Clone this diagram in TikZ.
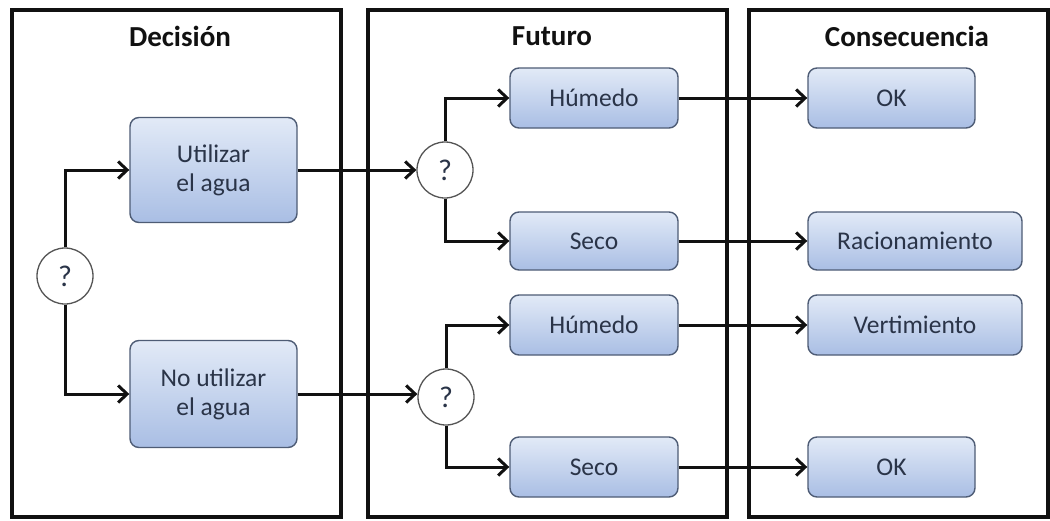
\documentclass[tikz,border=0pt]{standalone}
\usepackage{fontspec}
\setmainfont{Carlito}
\usetikzlibrary{arrows.meta,positioning}
\usepackage{xcolor}
\definecolor{dchInk}  {HTML}{111111}
\definecolor{dchText} {HTML}{2A3448}
\definecolor{dchEdge} {HTML}{4E5C75}
\definecolor{dchTop}  {HTML}{E2EAF7}
\definecolor{dchBot}  {HTML}{A9BEE4}
\definecolor{dchRing} {HTML}{555555}

\begin{document}
\begin{tikzpicture}[x=1pt, y=-1pt,
  every node/.style ={font=\fontsize{25.5}{29}\selectfont},
  panel/.style      ={draw=dchInk, line width=3.6pt, fill=white, inner sep=0pt},
  ttl/.style        ={font=\fontsize{29}{33}\selectfont\bfseries, text=dchInk},
  opt/.style        ={draw=dchEdge, line width=1.4pt, rounded corners=9pt, top color=dchTop, bottom color=dchBot,
                      text=dchText, align=center, inner sep=0pt},
  chance/.style     ={circle, draw=dchRing, line width=1.3pt, fill=white, minimum size=56pt, inner sep=0pt, text=dchText,
                      font=\fontsize{30}{34}\selectfont},
  flow/.style       ={-{Straight Barb[length=9pt, width=17pt]}, line width=3pt, dchInk},
]
\useasboundingbox (0,0) rectangle (1050,520);

% panels
\node[panel, minimum width=329pt, minimum height=507pt] (pDec) at (176.5,263.5) {};
\node[panel, minimum width=359pt, minimum height=507pt] (pFut) at (547.5,263.5) {};
\node[panel, minimum width=299pt, minimum height=507pt] (pCon) at (898.5,263.5) {};
\node[ttl] (tDec) at (180,36) {Decisión};
\node[ttl] (tFut) at (552,36) {Futuro};
\node[ttl] (tCon) at (907,36) {Consecuencia};

% decision
\node[chance] (qDec) at (65,276) {?};
\node[opt, minimum width=167pt, minimum height=105pt] (use)   at (213.5,170) {Utilizar\\el agua};
\node[opt, minimum width=167pt, minimum height=107pt] (nouse) at (213.5,394) {No utilizar\\el agua};

% future
\node[chance] (qUse)   at (445,170) {?};
\node[chance] (qNoUse) at (446,397) {?};
\node[opt, minimum width=168pt, minimum height=60pt] (wetA) at (594,98)  {Húmedo};
\node[opt, minimum width=168pt, minimum height=58pt] (dryA) at (594,241) {Seco};
\node[opt, minimum width=168pt, minimum height=60pt] (wetB) at (594,325) {Húmedo};
\node[opt, minimum width=168pt, minimum height=60pt] (dryB) at (594,467) {Seco};

% consequences
\node[opt, minimum width=167pt, minimum height=60pt] (okA)  at (891.5,98)  {OK};
\node[opt, minimum width=214pt, minimum height=58pt] (ration) at (915,241) {Racionamiento};
\node[opt, minimum width=214pt, minimum height=60pt] (spill)  at (915,325) {Vertimiento};
\node[opt, minimum width=167pt, minimum height=60pt] (okB)  at (891.5,467) {OK};

% connectors
\draw[flow] (qDec.north) |- (use.west);
\draw[flow] (qDec.south) |- (nouse.west);
\draw[flow] (use.east) -- (qUse.west);
\draw[flow] (nouse.east) -- (nouse.east -| qNoUse.west);
\draw[flow] (qUse.north) |- (wetA.west);
\draw[flow] (qUse.south) |- (dryA.west);
\draw[flow] (qNoUse.north) |- (wetB.west);
\draw[flow] (qNoUse.south) |- (dryB.west);
\draw[flow] (wetA.east) -- (okA.west);
\draw[flow] (dryA.east) -- (ration.west);
\draw[flow] (wetB.east) -- (spill.west);
\draw[flow] (dryB.east) -- (okB.west);

\end{tikzpicture}
\end{document}
